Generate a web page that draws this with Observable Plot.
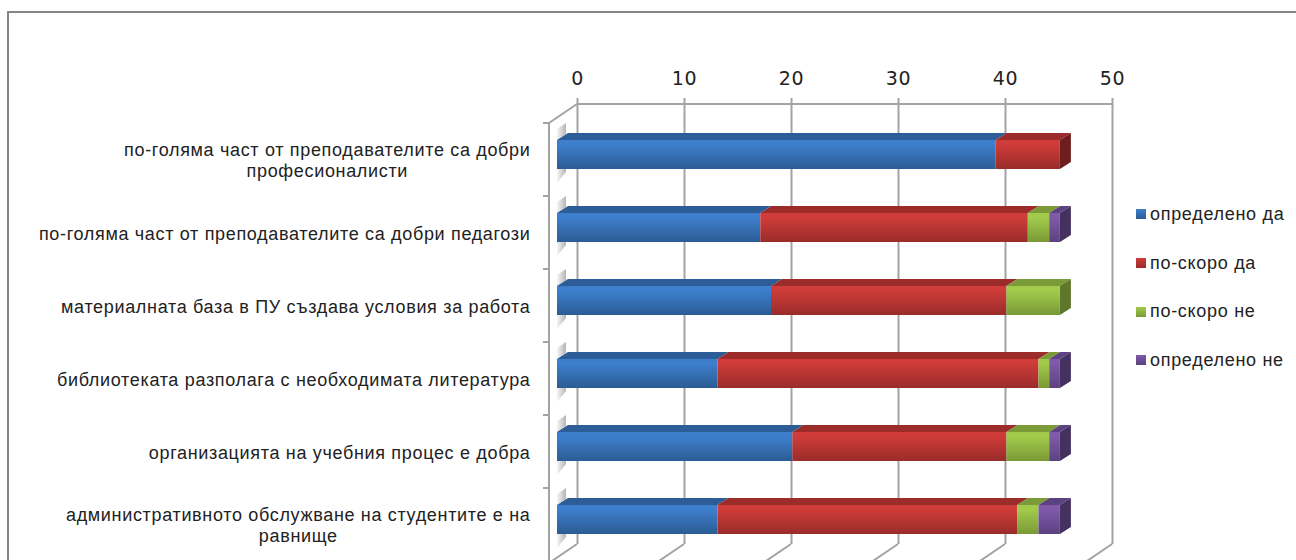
<!DOCTYPE html>
<html>
<head>
<meta charset="utf-8">
<script src="https://cdn.jsdelivr.net/npm/d3@7"></script>
<script src="https://cdn.jsdelivr.net/npm/@observablehq/plot@0.6"></script>
<style>
html,body{margin:0;padding:0;background:#fff;overflow:hidden}
#wrap{position:relative;width:1296px;height:560px;overflow:hidden}
#frame{position:absolute;left:7px;top:11px;width:1400px;height:800px;border:2px solid #858585;box-sizing:border-box}
#chart{position:absolute;left:0;top:0}
#legend{position:absolute;left:1136px;top:190px;font:18px "Liberation Sans",sans-serif;letter-spacing:0.7px;color:#222}
#legend div{height:48.7px;display:flex;align-items:center;white-space:nowrap}
#legend i{display:inline-block;width:10px;height:10px;margin-right:4px}
</style>
</head>
<body>
<div id="wrap"><div id="frame"></div><div id="chart"></div><div id="legend"></div></div>
<script>
const categories = [
  "по-голяма част от преподавателите са добри професионалисти",
  "по-голяма част от преподавателите са добри педагози",
  "материалната база в ПУ създава условия за работа",
  "библиотека разполага с необходимата литература",
  "организацията на учебния процес е добра",
  "административното обслужване на студентите е на равнище"
];
const labelLines = [
  ["по-голяма част от преподавателите са добри", "професионалисти"],
  ["по-голяма част от преподавателите са добри педагози"],
  ["материалната база в ПУ създава условия за работа"],
  ["библиотеката разполага с необходимата литература"],
  ["организацията на учебния процес е добра"],
  ["административното обслужване на студентите е на", "равнище"]
];
const seriesNames = ["определено да", "по-скоро да", "по-скоро не", "определено не"];
const definitelyYes = [41, 19, 20, 15, 22, 15];
const ratherYes     = [ 6, 25, 22, 30, 20, 28];
const ratherNo      = [ 0,  2,  5,  1,  4,  2];
const definitelyNo  = [ 0,  1,  0,  1,  1,  2];
const xTicks = [0, 10, 20, 30, 40, 50];

const faceTop   = ["#2c5d97", "#9c2c2a", "#7b9a38", "#5d4283"];
const faceSide  = ["#234b79", "#6e1f1d", "#5f772b", "#443160"];
const faceFront = [["#3e7fcd", "#2b5c94"], ["#cf3c39", "#992c2a"], ["#a2cb4c", "#7a9936"], ["#8059ab", "#5c4180"]];

const FONT = '"Liberation Sans", sans-serif';
const FONT_SIZE = 18;
const SPACING = 0.67;
const values = [definitelyYes, ratherYes, ratherNo, definitelyNo];
const rows = [];
categories.forEach((c, i) => {
  let sum = 0;
  values.forEach((v, s) => {
    if (v[i] > 0) rows.push({category: c, series: seriesNames[s], s, x1: sum, x2: sum + v[i], last: s === 3 || values.slice(s + 1).every(w => w[i] === 0)});
    sum += v[i];
  });
});

const measure = document.createElement("canvas").getContext("2d");
measure.font = `${FONT_SIZE}px ${FONT}`;
const lineRows = [];
labelLines.forEach((lines, i) => {
  const w = Math.max(...lines.map(l => measure.measureText(l).width + l.length * SPACING));
  lines.forEach((t, k) => lineRows.push({
    category: categories[i], text: t,
    anchor: k === 0 ? "end" : "middle",
    dy: (lines.length === 1 ? 6 : k === 0 ? -4.5 : 16.5),
    dx: k === 0 ? 0 : -w / 2
  }));
});

// depth of the 3D box, of the chart walls, and the floor, in pixels
const bar = {dx: 11, dy: -7};
const wall = {dx: 20};
const front = {dx: -8, dy: 5};
const gridColor = "#a3a3a3";

function defs() {
  const d = d3.create("svg:defs");
  faceFront.forEach((c, i) => {
    const g = d.append("linearGradient").attr("id", "bar" + i).attr("x1", 0).attr("x2", 0).attr("y1", 0).attr("y2", 1);
    g.append("stop").attr("offset", "0.15").attr("stop-color", c[0]);
    g.append("stop").attr("offset", "1").attr("stop-color", c[1]);
  });
  const s = d.append("linearGradient").attr("id", "shade").attr("x1", 1).attr("x2", 0).attr("y1", 0).attr("y2", 0);
  s.append("stop").attr("offset", "0").attr("stop-color", "#b4b4b4");
  s.append("stop").attr("offset", "1").attr("stop-color", "#f6f6f6");
  return d.node();
}

function walls(index, {x, y}, _v, dims) {
  const g = d3.create("svg:g").attr("fill", "none").attr("stroke", gridColor).attr("stroke-width", 2);
  const x0 = x(0), bottom = dims.height - dims.marginBottom, top = dims.marginTop;
  const step = y.step();
  const frontTop = y(categories[0]) - (step - y.bandwidth()) / 2 + front.dy;
  const floorDX = wall.dx - front.dx, floorDY = top - frontTop;
  g.append("path").attr("d", `M${x0 + wall.dx},${top}H${x(50) + wall.dx}`);
  g.append("path").attr("d", `M${x0 + wall.dx},${top}L${x0 + front.dx},${frontTop}V${dims.height + 10}`);
  xTicks.forEach(t => g.append("path").attr("d", `M${x(t) + wall.dx},${bottom}l${-floorDX},${-floorDY}`));
  d3.range(categories.length + 1).forEach(i => g.append("path").attr("d", `M${x0 + front.dx - 6},${frontTop + i * step}h6`));
  return g.node();
}

function shadows(index, {x, y}) {
  const g = d3.create("svg:g").attr("fill", "url(#shade)");
  const h = y.bandwidth(), x0 = x(0);
  categories.forEach(c => {
    const t = y(c);
    g.append("path").attr("d", `M${x0},${t}v-11l9,-6v11z`);
    g.append("path").attr("d", `M${x0},${t + h}h9v3l-9,11z`);
  });
  return g.node();
}

function depthFaces(index, {x, y}) {
  const g = d3.create("svg:g");
  for (const r of rows) {
    const a = x(r.x1), b = x(r.x2), t = y(r.category), h = y.bandwidth();
    g.append("path").attr("fill", faceTop[r.s])
      .attr("d", `M${a},${t}l${bar.dx},${bar.dy}L${b + bar.dx},${t + bar.dy}L${b},${t}z`);
    if (r.last) g.append("path").attr("fill", faceSide[r.s])
      .attr("d", `M${b},${t}l${bar.dx},${bar.dy}v${h}l${-bar.dx},${-bar.dy}z`);
  }
  return g.node();
}

const plot = Plot.plot({
  width: 1296,
  height: 560,
  marginTop: 104,
  marginBottom: 16,
  marginLeft: 530,
  marginRight: 100,
  style: {background: "transparent", fontFamily: FONT, fontSize: FONT_SIZE + "px", letterSpacing: SPACING + "px", color: "#222"},
  x: {domain: [0, 50], range: [557, 1092], axis: null},
  y: {domain: categories, range: [117, 556], paddingInner: 0.604, paddingOuter: 0.302, axis: null},
  marks: [
    defs,
    Plot.ruleX(xTicks, {x: d => d, dx: wall.dx, stroke: gridColor, strokeWidth: 2}),
    Plot.axisX(xTicks, {anchor: "top", dx: wall.dx, tickSize: 7, tickPadding: 13, stroke: gridColor, strokeWidth: 2, fontSize: 19, fontFamily: '"DejaVu Sans", sans-serif', fill: "#222", label: null, tickFormat: d => d}),
    walls,
    shadows,
    depthFaces,
    Plot.barX(rows, {x1: "x1", x2: "x2", y: "category", fill: d => `url(#bar${d.s})`}),
    ...lineRows.map(r => Plot.text([r], {text: "text", y: "category", frameAnchor: "left", textAnchor: r.anchor, dx: r.dx, dy: r.dy, lineAnchor: "middle", fill: "#222"}))
  ]
});
document.getElementById("chart").append(plot);

const legend = document.getElementById("legend");
seriesNames.forEach((n, i) => {
  const row = document.createElement("div");
  const sw = document.createElement("i");
  sw.style.background = `linear-gradient(${faceFront[i][0]},${faceFront[i][1]})`;
  row.append(sw, n);
  legend.append(row);
});
</script>
</body>
</html>
